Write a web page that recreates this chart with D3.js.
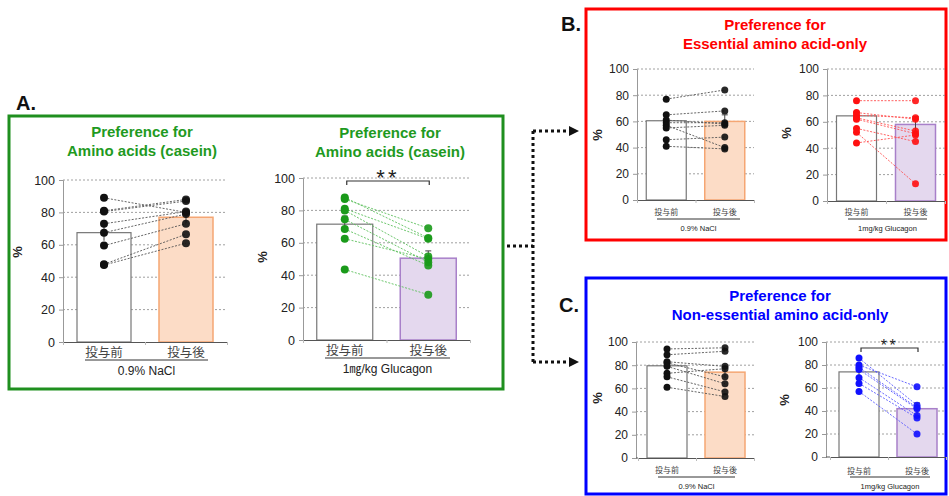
<!DOCTYPE html>
<html>
<head>
<meta charset="utf-8">
<script src="https://cdn.jsdelivr.net/npm/d3@7"></script>
<style>
  body { margin: 0; background: #fff; }
  svg { display: block; font-family: "Liberation Sans", Arial, sans-serif; }
</style>
</head>
<body>
<div id="fig"></div>
<script>
// Groups and ticks
var groups = ["投与前", "投与後"];
var yTicks = [0, 20, 40, 60, 80, 100];

// A: amino acids (casein), 0.9% NaCl
var aNaclMean = [67.5, 77];
var aNaclSem = [5, 3.5];
var aNaclBefore = [89, 81, 80.5, 73, 67.5, 59.5, 48, 47.5];
var aNaclAfter = [80, 88, 87, 80.5, 79, 73, 66.5, 61];

// A: amino acids (casein), glucagon
var aGlucMean = [71.5, 50.5];
var aGlucSem = [5, 4.5];
var aGlucBefore = [88, 87, 81, 80, 74.5, 68.5, 62.5, 43.5];
var aGlucAfter = [63, 69, 62.5, 51.5, 48, 46, 50, 28];

// B: essential amino acids, NaCl / glucagon
var bNaclMean = [60.5, 60];
var bNaclSem = [4, 5];
var bNaclBefore = [77, 65, 61, 59, 57, 55, 46, 41];
var bNaclAfter = [84, 68, 58, 59, 40, 57, 48, 39];
var bGlucMean = [64.5, 58];
var bGlucSem = [3, 6];
var bGlucBefore = [76, 67, 65, 63, 62, 55, 52, 44];
var bGlucAfter = [76, 62, 63, 53, 51, 45, 13, 50];

// C: non-essential amino acids, NaCl / glucagon
var cNaclMean = [79.5, 74];
var cNaclSem = [4, 5];
var cNaclBefore = [94, 89, 83, 82, 79, 73, 70, 61];
var cNaclAfter = [95, 92, 79, 70, 64, 77, 57, 53];
var cGlucMean = [74, 42];
var cGlucSem = [4, 5];
var cGlucBefore = [86, 80, 78, 76, 69, 64, 57];
var cGlucAfter = [45, 61, 43, 42, 36, 34, 20];

var W = 949, H = 496;
var svg = d3.select("#fig").append("svg").attr("width", W).attr("height", H);

// panel frames
var frames = [
  {x: 9, y: 116, w: 494, h: 273, c: "#1f8f1f", label: "A.", lx: 16, ly: 110},
  {x: 586, y: 9, w: 360, h: 231, c: "#ff0000", label: "B.", lx: 561, ly: 31},
  {x: 586, y: 278, w: 360, h: 216, c: "#0000ff", label: "C.", lx: 559, ly: 312}
];
frames.forEach(function(f) {
  svg.append("rect").attr("x", f.x).attr("y", f.y).attr("width", f.w).attr("height", f.h)
     .attr("fill", "none").attr("stroke", f.c).attr("stroke-width", 3);
  svg.append("text").attr("x", f.lx).attr("y", f.ly).text(f.label)
     .attr("font-size", 20).attr("font-weight", "bold").attr("fill", "#111");
});

// titles
var titles = [
  {x: 142, y: 137, c: "#1f9a1f", t: ["Preference for", "Amino acids (casein)"]},
  {x: 390, y: 138, c: "#1f9a1f", t: ["Preference for", "Amino acids (casein)"]},
  {x: 775, y: 30, c: "#ff0000", t: ["Preference for", "Essential amino acid-only"]},
  {x: 780, y: 301, c: "#0000ff", t: ["Preference for", "Non-essential amino acid-only"]}
];
titles.forEach(function(t) {
  t.t.forEach(function(s, i) {
    svg.append("text").attr("x", t.x).attr("y", t.y + i * 18.5).text(s)
       .attr("text-anchor", "middle").attr("font-size", 15).attr("font-weight", "bold")
       .attr("fill", t.c);
  });
});

// dotted connector with arrows
var conn = svg.append("g").attr("stroke", "#111").attr("stroke-width", 3)
  .attr("stroke-dasharray", "3,3").attr("fill", "none");
conn.append("path").attr("d", "M507,246 H533");
conn.append("path").attr("d", "M533,131 V362");
conn.append("path").attr("d", "M533,131 H570");
conn.append("path").attr("d", "M533,362 H570");
[131, 362].forEach(function(yy) {
  svg.append("path").attr("d", "M569," + (yy - 5) + " L579," + yy + " L569," + (yy + 5) + " Z")
     .attr("fill", "#111");
});

var panels = [
  {mean: aNaclMean, sem: aNaclSem, pre: aNaclBefore, post: aNaclAfter, ax: 63, x0: 63, x1: 227,
   top: 180, bot: 342, barW: 54, r: 4, dot: "#111", line: "#555", fill2: "#fcdcc6", stroke2: "#f5a673",
   tickFs: 12.5, catFs: 12.5, catY: 357, ulY: 360, ul: [85, 208], sub: "0.9% NaCl", subFs: 12, subY: 375,
   pctX: 22, pctY: 252, pctFs: 13},
  {mean: aGlucMean, sem: aGlucSem, pre: aGlucBefore, post: aGlucAfter, ax: 303, x0: 303, x1: 470,
   top: 178, bot: 340, barW: 56, r: 4, dot: "#1a9a1a", line: "#5cbf5c", fill2: "#e4d8ee", stroke2: "#a880c9",
   tickFs: 12.5, catFs: 12.5, catY: 355, ulY: 358, ul: [325, 450], sub: "1㎎/kg Glucagon", subFs: 12, subY: 373,
   pctX: 267, pctY: 257, pctFs: 13, sig: {y: 181, fs: 22}},
  {mean: bNaclMean, sem: bNaclSem, pre: bNaclBefore, post: bNaclAfter, ax: 637, x0: 637, x1: 754,
   top: 69, bot: 200, barW: 40, r: 3.5, dot: "#111", line: "#555", fill2: "#fcdcc6", stroke2: "#f5a673",
   tickFs: 12, catFs: 8, catY: 215, ulY: 219, ul: [657, 740], sub: "0.9% NaCl", subFs: 7.5, subY: 231,
   pctX: 602, pctY: 135, pctFs: 13},
  {mean: bGlucMean, sem: bGlucSem, pre: bGlucBefore, post: bGlucAfter, ax: 827, x0: 827, x1: 945,
   top: 69, bot: 201, barW: 40, r: 3.5, dot: "#ff1010", line: "#ff5050", fill2: "#e4d8ee", stroke2: "#a880c9",
   tickFs: 12, catFs: 8, catY: 215, ulY: 219, ul: [848, 927], sub: "1mg/kg Glucagon", subFs: 7.5, subY: 231,
   pctX: 791, pctY: 133, pctFs: 13},
  {mean: cNaclMean, sem: cNaclSem, pre: cNaclBefore, post: cNaclAfter, ax: 636, x0: 638, x1: 754,
   top: 342, bot: 458, barW: 40, r: 3.5, dot: "#111", line: "#555", fill2: "#fcdcc6", stroke2: "#f5a673",
   tickFs: 12, catFs: 8, catY: 473, ulY: 477, ul: [658, 735], sub: "0.9% NaCl", subFs: 7.5, subY: 489,
   pctX: 602, pctY: 398, pctFs: 13},
  {mean: cGlucMean, sem: cGlucSem, pre: cGlucBefore, post: cGlucAfter, ax: 826, x0: 830, x1: 946,
   top: 342, bot: 457, barW: 40, r: 3.5, dot: "#1010ff", line: "#5a5aff", fill2: "#e4d8ee", stroke2: "#a880c9",
   tickFs: 12, catFs: 8, catY: 474, ulY: 477, ul: [850, 930], sub: "1mg/kg Glucagon", subFs: 7.5, subY: 489,
   pctX: 789, pctY: 400, pctFs: 13, sig: {y: 348, fs: 16}}
];

panels.forEach(function(p) {
  var g = svg.append("g");
  var x = d3.scaleLinear().domain([0.5, 2.5]).range([p.x0, p.x1]);
  var y = d3.scaleLinear().domain([0, 100]).range([p.bot, p.top]);

  // grid
  g.selectAll(".grid").data(yTicks.filter(function(d) { return d > 0; })).enter()
   .append("line")
   .attr("x1", p.ax).attr("x2", p.x1)
   .attr("y1", function(d) { return y(d); }).attr("y2", function(d) { return y(d); })
   .attr("stroke", "#888").attr("stroke-width", 0.8).attr("stroke-dasharray", "2,2");

  // bars
  g.selectAll(".bar").data(p.mean).enter().append("rect")
   .attr("x", function(d, i) { return x(i + 1) - p.barW / 2; })
   .attr("y", function(d) { return y(d); })
   .attr("width", p.barW)
   .attr("height", function(d) { return p.bot - y(d); })
   .attr("fill", function(d, i) { return i === 0 ? "#fff" : p.fill2; })
   .attr("stroke", function(d, i) { return i === 0 ? "#777" : p.stroke2; })
   .attr("stroke-width", function(d, i) { return i === 0 ? 1.2 : 1.5; });

  // error bars
  g.selectAll(".err").data(p.mean).enter().append("path")
   .attr("d", function(d, i) {
     var cx = x(i + 1), t = y(d + p.sem[i]), b = y(d - p.sem[i]);
     return "M" + cx + "," + t + " V" + b + " M" + (cx - 3) + "," + t + " H" + (cx + 3);
   })
   .attr("stroke", "#444").attr("stroke-width", 1).attr("fill", "none");

  // axes
  var yAxis = g.append("g").attr("transform", "translate(" + p.ax + ",0)")
    .call(d3.axisLeft(y).tickValues(yTicks).tickSize(4).tickPadding(4));
  yAxis.select(".domain").attr("stroke", "#999");
  yAxis.selectAll(".tick line").attr("stroke", "#999");
  yAxis.selectAll("text").attr("font-size", p.tickFs).attr("fill", "#222")
    .attr("font-family", "Liberation Sans, Arial, sans-serif");

  var xAxis = g.append("g").attr("transform", "translate(0," + p.bot + ")")
    .call(d3.axisBottom(x).tickValues([0.5, 1.5, 2.5]).tickFormat("").tickSizeOuter(0).tickSize(3));
  xAxis.select(".domain").attr("stroke", "#555");
  xAxis.selectAll(".tick line").attr("stroke", "#bbb");
  g.append("line").attr("x1", p.ax).attr("x2", p.x0).attr("y1", p.bot).attr("y2", p.bot).attr("stroke", "#555");

  // category labels
  g.selectAll(".cat").data(groups).enter().append("text")
   .attr("x", function(d, i) { return x(i + 1); }).attr("y", p.catY)
   .attr("text-anchor", "middle").attr("font-size", p.catFs).attr("fill", "#444")
   .attr("font-family", "Noto Sans CJK JP, sans-serif")
   .text(function(d) { return d; });
  g.append("line").attr("x1", p.ul[0]).attr("x2", p.ul[1]).attr("y1", p.ulY).attr("y2", p.ulY)
   .attr("stroke", "#333").attr("stroke-width", 1);
  g.append("text").attr("x", (p.ul[0] + p.ul[1]) / 2).attr("y", p.subY)
   .attr("text-anchor", "middle").attr("font-size", p.subFs).attr("fill", "#222")
   .attr("font-family", "Liberation Sans, Arial, Noto Sans CJK JP, sans-serif")
   .text(p.sub);

  // % label
  g.append("text").attr("transform", "translate(" + p.pctX + "," + p.pctY + ") rotate(-90)")
   .attr("text-anchor", "middle").attr("font-size", p.pctFs).attr("font-weight", "bold")
   .attr("fill", "#222").text("%");

  // paired lines and dots
  var pairs = p.pre.map(function(v, i) { return [v, p.post[i]]; });
  g.selectAll(".pair").data(pairs).enter().append("line")
   .attr("x1", x(1)).attr("x2", x(2))
   .attr("y1", function(d) { return y(d[0]); }).attr("y2", function(d) { return y(d[1]); })
   .attr("stroke", p.line).attr("stroke-width", 0.9).attr("stroke-dasharray", "2,1.5");
  g.selectAll(".pre").data(p.pre).enter().append("circle")
   .attr("cx", x(1)).attr("cy", function(d) { return y(d); }).attr("r", p.r).attr("fill", p.dot);
  g.selectAll(".post").data(p.post).enter().append("circle")
   .attr("cx", x(2)).attr("cy", function(d) { return y(d); }).attr("r", p.r).attr("fill", p.dot)
   .attr("fill-opacity", 0.9);

  // significance bracket
  if (p.sig) {
    var bx1 = x(1) + 2, bx2 = x(2) + 1;
    g.append("path").attr("d", "M" + bx1 + "," + (p.sig.y + 4) + " V" + p.sig.y + " H" + bx2 + " V" + (p.sig.y + 4))
     .attr("fill", "none").attr("stroke", "#333").attr("stroke-width", 1.2);
    g.append("text").attr("x", (bx1 + bx2) / 2).attr("y", p.sig.y + p.sig.fs * 0.2)
     .attr("text-anchor", "middle").attr("font-size", p.sig.fs).attr("fill", "#222")
     .attr("letter-spacing", p.sig.fs * 0.15).text("**");
  }
});
</script>
</body>
</html>
